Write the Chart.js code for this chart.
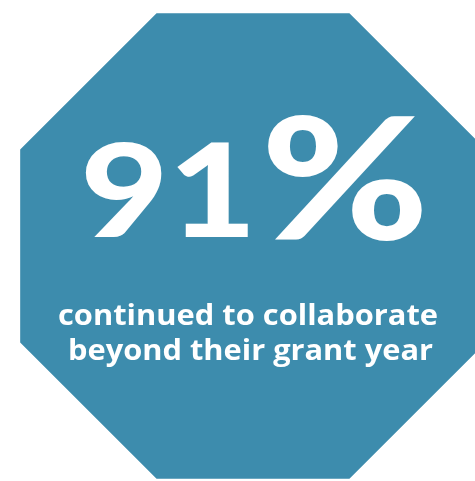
<!DOCTYPE html>
<html>
<head>
<meta charset="utf-8">
<script src="https://cdn.jsdelivr.net/npm/chart.js@4.4.0/dist/chart.umd.min.js"></script>
<style>
  body{margin:0;background:#fff;}
  #wrap{position:relative;width:475px;height:481px;overflow:hidden;}
  #box{position:absolute;left:1px;top:-6px;width:504px;height:504px;}
</style>
</head>
<body>
<div id="wrap"><div id="box"><canvas id="myChart"></canvas></div></div>
<script>
// data
const sides = ['1','2','3','4','5','6','7','8'];
const sideValues = [1,1,1,1,1,1,1,1];
const statValue = 91;
const statLines = ['continued to collaborate', 'beyond their grant year'];

const shapeColor = '#3d8cad';
const offsetX = -1; // canvas is shifted right by 1
const offsetY = 6;  // and up by 6

// stretch a string so its ink fills the box
function fitText(ctx, text, font, x0, y0, x1, y1){
    ctx.save();
    ctx.font = font;
    let m = ctx.measureText(text);
    let w = m.actualBoundingBoxLeft + m.actualBoundingBoxRight;
    let h = m.actualBoundingBoxAscent + m.actualBoundingBoxDescent;
    ctx.translate(x0 + offsetX, y0 + offsetY);
    ctx.scale((x1 - x0) / w, (y1 - y0) / h);
    ctx.textBaseline = 'alphabetic';
    ctx.textAlign = 'left';
    ctx.fillText(text, m.actualBoundingBoxLeft, m.actualBoundingBoxAscent);
    ctx.restore();
}

// caption line, fixed size, squeezed to a width
function lineText(ctx, text, font, cx, baseY, width){
    ctx.save();
    ctx.font = font;
    let w = ctx.measureText(text).width;
    ctx.translate(cx + offsetX, baseY + offsetY);
    ctx.scale(width / w, 1);
    ctx.textAlign = 'center';
    ctx.textBaseline = 'alphabetic';
    ctx.fillText(text, 0, 0);
    ctx.restore();
}

const statText = {
    id: 'statText',
    afterDraw(chart){
        let ctx = chart.ctx;
        ctx.fillStyle = '#ffffff';
        let big = '900 130px Lato, Inter, sans-serif';
        fitText(ctx, String(statValue), big, 85, 142, 248, 237);
        fitText(ctx, '%', big, 267, 113, 422, 240);
        let small = '700 28px "Open Sans", sans-serif';
        lineText(ctx, statLines[0], small, 248, 325, 380);
        lineText(ctx, statLines[1], small, 250.5, 360, 365);
    }
};

const ThisChart = document.getElementById('myChart');
new Chart(ThisChart, {
    type: 'radar',
    data: {
        labels: sides,
        datasets: [{
            data: sideValues,
            backgroundColor: shapeColor,
            borderColor: shapeColor,
            borderWidth: 0,
            pointRadius: 0,
            fill: true
        }]
    },
    options: {
        responsive: true,
        maintainAspectRatio: false,
        animation: false,
        layout: {padding: 0},
        plugins: {legend: {display: false}, tooltip: {enabled: false}},
        scales: {
            r: {
                min: 0,
                max: 1,
                startAngle: 22.5,
                ticks: {display: false},
                grid: {display: false},
                angleLines: {display: false},
                pointLabels: {display: false}
            }
        }
    },
    plugins: [statText]
});
</script>
</body>
</html>
